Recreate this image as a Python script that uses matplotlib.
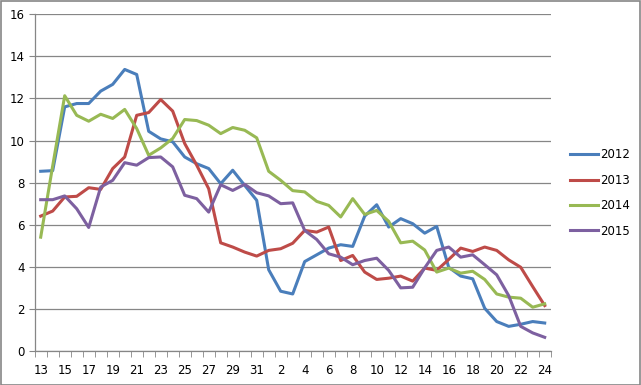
import matplotlib
matplotlib.use('Agg')
import matplotlib.pyplot as plt
from matplotlib.patches import Rectangle
import numpy as np

# categories: weeks 13..31, then 1..24 of the next year
weeks = list(range(13, 32)) + list(range(1, 25))

s2012 = [8.54, 8.57, 11.6, 11.76, 11.76, 12.35, 12.67, 13.38, 13.14, 10.44,
         10.08, 9.94, 9.22, 8.9, 8.67, 7.95, 8.59, 7.87, 7.16, 3.86,
         2.84, 2.71, 4.25, 4.57, 4.89, 5.05, 4.97, 6.41, 6.95, 5.89,
         6.29, 6.05, 5.6, 5.92, 3.98, 3.56, 3.43, 2.03, 1.4, 1.17,
         1.27, 1.4, 1.33]
s2013 = [6.41, 6.65, 7.32, 7.35, 7.76, 7.68, 8.67, 9.22, 11.2, 11.33,
         11.95, 11.4, 9.86, 8.83, 7.71, 5.14, 4.94, 4.7, 4.51, 4.78,
         4.86, 5.12, 5.73, 5.65, 5.89, 4.3, 4.54, 3.75, 3.4, 3.46,
         3.56, 3.32, 3.94, 3.83, 4.35, 4.89, 4.73, 4.94, 4.78, 4.33,
         3.98, 3.06, 2.16]
s2014 = [5.41, 8.8, 12.13, 11.2, 10.92, 11.25, 11.05, 11.48, 10.57, 9.3,
         9.65, 10.1, 11.0, 10.95, 10.73, 10.33, 10.62, 10.49, 10.13, 8.54,
         8.11, 7.62, 7.56, 7.11, 6.92, 6.37, 7.24, 6.49, 6.68, 6.16,
         5.14, 5.22, 4.8, 3.75, 3.94, 3.7, 3.79, 3.4, 2.71, 2.56,
         2.51, 2.08, 2.24]
s2015 = [7.19, 7.19, 7.37, 6.76, 5.87, 7.79, 8.11, 8.95, 8.83, 9.19,
         9.22, 8.75, 7.4, 7.24, 6.6, 7.9, 7.63, 7.92, 7.52, 7.37,
         7.0, 7.04, 5.73, 5.3, 4.62, 4.46, 4.1, 4.3, 4.41, 3.83,
         3.0, 3.03, 3.95, 4.78, 4.94, 4.46, 4.57, 4.1, 3.62, 2.63,
         1.17, 0.86, 0.65]

series = [('2012', s2012, '#4A7EBB'),
          ('2013', s2013, '#BE4B48'),
          ('2014', s2014, '#98B954'),
          ('2015', s2015, '#7D60A0')]

plt.rcParams['font.family'] = ['DejaVu Sans']
grey = '#868686'

fig = plt.figure(figsize=(6.41, 3.85), dpi=100)
ax = fig.add_axes([34.7 / 641, 1 - 351 / 385, 516 / 641, (351 - 14.3) / 385])

x = np.arange(len(weeks))
for name, vals, col in series:
    ax.plot(x, vals, color=col, lw=2.2, label=name, solid_joinstyle='round')

ax.set_xlim(-0.5, len(weeks) - 0.5)
ax.set_ylim(0, 16)
ax.set_yticks(np.arange(0, 17, 2))
ax.yaxis.grid(True, color=grey, lw=0.9)
ax.set_axisbelow(True)

ax.set_xticks(x[::2])
ax.set_xticklabels([str(w) for w in weeks[::2]])
ax.set_xticks(np.arange(-0.5, len(weeks), 1), minor=True)
ax.tick_params(axis='x', which='major', length=0, pad=9, labelsize=8.5)
ax.tick_params(axis='x', which='minor', length=4, color=grey, direction='out')
ax.tick_params(axis='y', length=4, color=grey, labelsize=8.5, pad=3)

for side in ['top', 'right']:
    ax.spines[side].set_visible(False)
for side in ['left', 'bottom']:
    ax.spines[side].set_color(grey)
    ax.spines[side].set_linewidth(0.9)

fig.legend(loc='center left', bbox_to_anchor=(570 / 641, 1 - 193 / 385),
           frameon=False, fontsize=8.5, handlelength=2.4, handletextpad=0.15,
           labelspacing=1.05, borderpad=0, borderaxespad=0)

# chart-area border
fig.patches.append(Rectangle((0.5 / 641, 0.5 / 385), 639.5 / 641, 383.5 / 385,
                             transform=fig.transFigure, fill=False,
                             edgecolor=grey, lw=1.2))

fig.savefig('out.png', dpi=100)
